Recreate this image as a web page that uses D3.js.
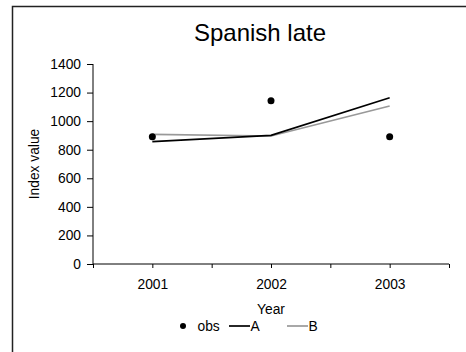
<!DOCTYPE html>
<html>
<head>
<meta charset="utf-8">
<script src="https://cdn.jsdelivr.net/npm/d3@7"></script>
<style>
  body { margin: 0; background: #fff; }
  svg { display: block; font-family: "Liberation Sans", Arial, sans-serif; }
</style>
</head>
<body>
<div id="chart"></div>
<script>
var years = [2001, 2002, 2003];
var obsValues = [890, 1143, 890];
var aValues = [856, 901, 1164];
var bValues = [908, 896, 1106];
var yTicks = [0, 200, 400, 600, 800, 1000, 1200, 1400];

var width = 466, height = 352;
var margin = {top: 64, right: 17, bottom: 88, left: 93};
var plotW = width - margin.left - margin.right;
var plotH = height - margin.top - margin.bottom;
var fs = "13.8px";

var svg = d3.select("#chart").append("svg")
    .attr("width", width)
    .attr("height", height);

// outer frame (runs off the right and bottom edges)
svg.append("rect")
    .attr("x", 12.5).attr("y", 6.5)
    .attr("width", 470).attr("height", 360)
    .attr("fill", "none")
    .attr("stroke", "#222")
    .attr("stroke-width", 1.5);

svg.append("text")
    .attr("x", 260).attr("y", 41)
    .attr("text-anchor", "middle")
    .style("font-size", "24px")
    .text("Spanish late");

var g = svg.append("g")
    .attr("transform", "translate(" + margin.left + "," + margin.top + ")");

var x = d3.scaleLinear()
    .domain([2000.5, 2003.5])
    .range([0, plotW]);

var y = d3.scaleLinear()
    .domain([0, 1400])
    .range([plotH, 0]);

var xAxis = d3.axisBottom(x)
    .tickValues(d3.range(2000.5, 2003.75, 0.5))
    .tickSize(4)
    .tickFormat(function(d) { return Number.isInteger(d) ? d : ""; });

var yAxis = d3.axisLeft(y)
    .tickValues(yTicks)
    .tickSize(6)
    .tickFormat(d3.format("d"));

var gx = g.append("g")
    .attr("transform", "translate(0," + plotH + ")")
    .call(xAxis);
gx.select(".domain").attr("d", "M0,0H" + plotW);

var gy = g.append("g").call(yAxis);
gy.select(".domain").attr("d", "M0," + plotH + "V0");

g.selectAll(".domain, .tick line").attr("stroke", "#000");
g.selectAll(".tick text")
    .attr("fill", "#000")
    .style("font-size", fs)
    .style("font-family", "Liberation Sans, Arial, sans-serif");
gx.selectAll(".tick text").attr("y", 15).attr("dy", "0.71em");
gy.selectAll(".tick text").attr("x", -12);

svg.append("text")
    .attr("transform", "translate(39," + (margin.top + plotH / 2) + ") rotate(-90)")
    .attr("text-anchor", "middle")
    .style("font-size", fs)
    .text("Index value");

svg.append("text")
    .attr("x", 271).attr("y", 314)
    .attr("text-anchor", "middle")
    .style("font-size", fs)
    .text("Year");

var line = d3.line()
    .x(function(d, i) { return x(years[i]); })
    .y(function(d) { return y(d); });

g.append("path")
    .datum(bValues)
    .attr("d", line)
    .attr("fill", "none")
    .attr("stroke", "#999")
    .attr("stroke-width", 1.7);

g.append("path")
    .datum(aValues)
    .attr("d", line)
    .attr("fill", "none")
    .attr("stroke", "#000")
    .attr("stroke-width", 1.7);

g.selectAll(".obs")
    .data(obsValues)
  .enter().append("circle")
    .attr("class", "obs")
    .attr("cx", function(d, i) { return x(years[i]); })
    .attr("cy", function(d) { return y(d); })
    .attr("r", 3.5)
    .attr("fill", "#000");

// legend
var leg = svg.append("g").attr("transform", "translate(0,326)");
leg.append("circle").attr("cx", 183).attr("cy", 0).attr("r", 3).attr("fill", "#000");
leg.append("text").attr("x", 197.5).attr("y", 5).style("font-size", fs).text("obs");
leg.append("line").attr("x1", 229).attr("x2", 250).attr("y1", 0).attr("y2", 0)
    .attr("stroke", "#000").attr("stroke-width", 1.7);
leg.append("text").attr("x", 250.5).attr("y", 5).style("font-size", fs).text("A");
leg.append("line").attr("x1", 287).attr("x2", 308).attr("y1", 0).attr("y2", 0)
    .attr("stroke", "#999").attr("stroke-width", 1.7);
leg.append("text").attr("x", 308.5).attr("y", 5).style("font-size", fs).text("B");
</script>
</body>
</html>
